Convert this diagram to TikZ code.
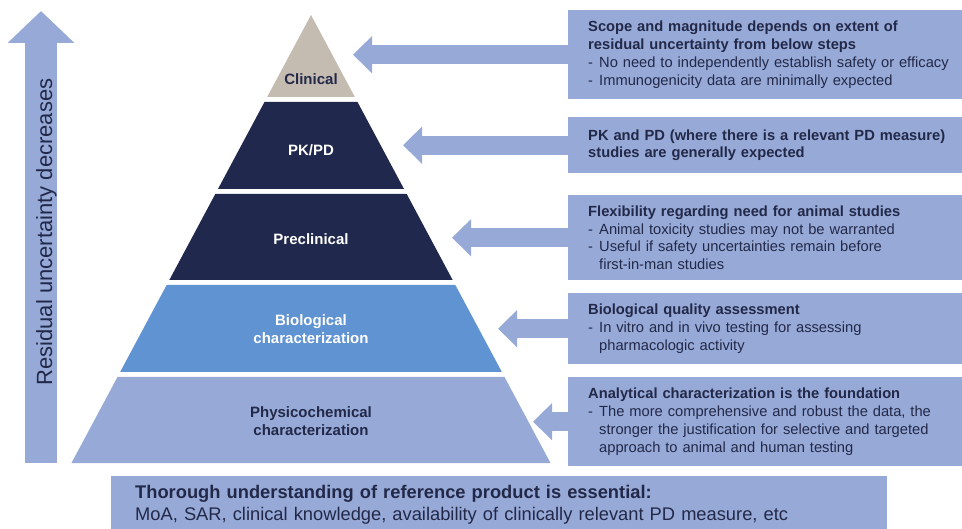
\documentclass[tikz,border=0pt]{standalone}
\usepackage{fontspec}
\setmainfont{Liberation Sans}
\usetikzlibrary{arrows.meta}

% dash bullet with hanging text
\newcommand{\dashline}[1]{\makebox[11pt][l]{-}#1}
\newcommand{\hang}{\hspace*{11pt}}

\begin{document}
\begin{tikzpicture}[x=1pt, y=-1pt,
    tier/.style={font=\bfseries\fontsize{15}{18}\selectfont, align=center},
    infobox/.style={fill=boxblue, text=textnavy, anchor=north west,
        text width=370pt, inner xsep=20pt, align=left,
        font=\fontsize{14.7}{17.8}\selectfont},
    blockarrow/.style={boxblue, line width=19pt, -{Triangle[length=19pt, width=36pt]}}]
    % Define colors
    \definecolor{boxblue}{RGB}{151,170,215}
    \definecolor{navy}{RGB}{33,40,78}
    \definecolor{midblue}{RGB}{96,147,209}
    \definecolor{beige}{RGB}{196,187,177}
    \definecolor{textnavy}{RGB}{34,40,72}

    \useasboundingbox (0,0) rectangle (962,529);

    % Uncertainty arrow on the left
    \coordinate (ubase) at (41,463);
    \coordinate (utop) at (41,11);
    \draw[boxblue, line width=32pt, -{Triangle[length=32pt, width=65pt]}] (ubase) -- (utop);
    \node[rotate=90, text=textnavy, font=\fontsize{22}{22}\selectfont] (uncert) at (46.5,232) {Residual uncertainty decreases};

    % Pyramid: apex at (311,15), half width grows 0.5346 per unit
    \fill[beige] (311,15) -- ({311+0.5346*82},97) -- ({311-0.5346*82},97) -- cycle;
    \foreach \ya/\yb/\col in {102/189/navy, 194/280/navy, 285/372/midblue, 377/463/boxblue} {
        \fill[\col] ({311-0.5346*(\ya-15)},\ya) -- ({311+0.5346*(\ya-15)},\ya)
            -- ({311+0.5346*(\yb-15)},\yb) -- ({311-0.5346*(\yb-15)},\yb) -- cycle;
    }

    % Tier labels
    \node[tier, text=textnavy] (clinical) at (311,79) {Clinical};
    \node[tier, text=white] (pkpd) at (311,150) {PK/PD};
    \node[tier, text=white] (preclin) at (311,239) {Preclinical};
    \node[tier, text=white] (biochar) at (311,329) {Biological\\characterization};
    \node[tier, text=textnavy] (physchem) at (311,421) {Physicochemical\\characterization};

    % Boxes on the right
    \node[infobox, minimum height=89pt] (scope) at (568,10) {%
        {\bfseries Scope and magnitude depends on extent of\\residual uncertainty from below steps}\\
        \dashline{No need to independently establish safety or efficacy}\\
        \dashline{Immunogenicity data are minimally expected}};
    \node[infobox, minimum height=56pt] (pkpdbox) at (568,117) {%
        {\bfseries PK and PD (where there is a relevant PD measure)\\studies are generally expected}};
    \node[infobox, minimum height=85pt] (animal) at (568,195) {%
        {\bfseries Flexibility regarding need for animal studies}\\
        \dashline{Animal toxicity studies may not be warranted}\\
        \dashline{Useful if safety uncertainties remain before}\\
        \hang first-in-man studies};
    \node[infobox, minimum height=71pt] (bioqual) at (568,293) {%
        {\bfseries Biological quality assessment}\\
        \dashline{In vitro and in vivo testing for assessing}\\
        \hang pharmacologic activity};
    \node[infobox, minimum height=89pt] (analytic) at (568,377) {%
        {\bfseries Analytical characterization is the foundation}\\
        \dashline{The more comprehensive and robust the data, the}\\
        \hang stronger the justification for selective and targeted\\
        \hang approach to animal and human testing};

    % Arrow tips in front of the pyramid
    \coordinate (tipclin) at (353,0);
    \coordinate (tippkpd) at (403,0);
    \coordinate (tippre) at (452,0);
    \coordinate (tipbio) at (498,0);
    \coordinate (tipphys) at (533,0);
    \draw[blockarrow] (scope.west) -- (scope.west -| tipclin);
    \draw[blockarrow] (pkpdbox.west) -- (pkpdbox.west -| tippkpd);
    \draw[blockarrow] (animal.west) -- (animal.west -| tippre);
    \draw[blockarrow] (bioqual.west) -- (bioqual.west -| tipbio);
    \draw[blockarrow] (analytic.west) -- (analytic.west -| tipphys);

    % Bottom box
    \node[fill=boxblue, text=textnavy, anchor=north west, minimum height=58pt,
        text width=728pt, inner xsep=24pt, align=left,
        font=\fontsize{18.3}{22}\selectfont] (reference) at (111,476) {%
        {\bfseries Thorough understanding of reference product is essential:}\\
        MoA, SAR, clinical knowledge, availability of clinically relevant PD measure, etc};
\end{tikzpicture}
\end{document}
